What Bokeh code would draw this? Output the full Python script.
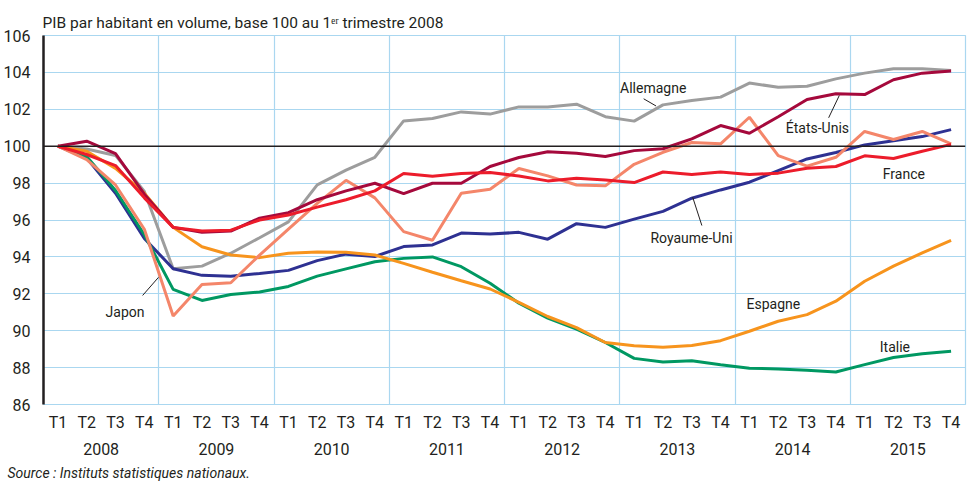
from bokeh.plotting import figure
from bokeh.models import FixedTicker, LinearAxis, Span, Label, Range1d, Title
from bokeh.embed import file_html
from bokeh.resources import INLINE

years = ["2008", "2009", "2010", "2011", "2012", "2013", "2014", "2015"]
quarter_labels = ["T1", "T2", "T3", "T4"]
y_ticks = [86, 88, 90, 92, 94, 96, 98, 100, 102, 104, 106]

allemagne = [100, 99.85, 99.5, 97.55, 93.36, 93.5, 94.2, 95.04, 95.9, 97.9, 98.7, 99.4,
             101.37, 101.5, 101.86, 101.74, 102.13, 102.13, 102.28, 101.6, 101.36, 102.24,
             102.48, 102.66, 103.42, 103.2, 103.25, 103.65, 103.96, 104.2, 104.2, 104.1]
etats_unis = [100, 100.27, 99.6, 97.4, 95.6, 95.33, 95.4, 96.1, 96.4, 97.1, 97.58, 97.99,
              97.43, 97.99, 97.99, 98.9, 99.39, 99.7, 99.62, 99.44, 99.76, 99.86,
              100.4, 101.12, 100.7, 101.6, 102.53, 102.84, 102.8, 103.6, 103.96, 104.07]
france = [100, 99.55, 98.95, 97.2, 95.6, 95.4, 95.45, 96.0, 96.27, 96.7, 97.1, 97.58,
          98.52, 98.37, 98.52, 98.57, 98.39, 98.12, 98.26, 98.17, 98.03, 98.6,
          98.46, 98.6, 98.46, 98.54, 98.8, 98.9, 99.48, 99.33, 99.73, 100.1]
japon = [100, 99.27, 97.9, 95.5, 90.8, 92.5, 92.6, 94.1, 95.5, 96.9, 98.15, 97.2,
         95.37, 94.9, 97.45, 97.67, 98.79, 98.39, 97.9, 97.85, 99.02, 99.67,
         100.2, 100.13, 101.57, 99.49, 98.92, 99.4, 100.8, 100.36, 100.8, 100.13]
royaume_uni = [100, 99.36, 97.45, 95.0, 93.36, 93.0, 92.95, 93.1, 93.27, 93.8, 94.15, 94.02,
               94.56, 94.65, 95.29, 95.24, 95.33, 94.96, 95.8, 95.6, 96.05, 96.47,
               97.18, 97.63, 98.05, 98.68, 99.31, 99.66, 100.07, 100.3, 100.52, 100.9]
espagne = [100, 99.73, 98.8, 97.45, 95.6, 94.55, 94.1, 93.96, 94.2, 94.27, 94.25, 94.1,
           93.65, 93.17, 92.71, 92.26, 91.54, 90.77, 90.17, 89.36, 89.18, 89.1,
           89.2, 89.46, 89.97, 90.51, 90.87, 91.6, 92.68, 93.5, 94.22, 94.9]
italie = [100, 99.45, 97.6, 95.2, 92.24, 91.64, 91.96, 92.1, 92.4, 92.96, 93.35, 93.74,
          93.92, 94.0, 93.47, 92.57, 91.49, 90.68, 90.08, 89.36, 88.5, 88.3,
          88.37, 88.16, 87.97, 87.92, 87.85, 87.76, 88.16, 88.55, 88.75, 88.88]

FONT = "Roboto"
TXT = "#231f20"
GRID = "#aad7f0"

n = len(allemagne)
xq = [i + 0.5 for i in range(n)]

p = figure(width=969, height=486, x_range=Range1d(0, n), y_range=Range1d(86, 106),
           output_backend="svg", toolbar_location=None,
           min_border_left=41, min_border_right=4, min_border_top=35, min_border_bottom=82)
p.title.text = "PIB par habitant en volume, base 100 au 1ᵉʳ trimestre 2008"
p.title.align = "left"
p.title.offset = -1
p.title.standoff = 7
p.title.text_font = FONT
p.title.text_font_size = "15.5px"
p.title.text_font_style = "normal"
p.title.text_color = TXT
p.background_fill_color = "white"
p.border_fill_color = "white"
p.outline_line_color = GRID
p.outline_line_width = 1.2

# grids
p.xgrid.ticker = FixedTicker(ticks=[4 * k for k in range(len(years) + 1)])
p.xgrid.grid_line_color = GRID
p.xgrid.grid_line_width = 1.2
p.ygrid.ticker = FixedTicker(ticks=y_ticks)
p.ygrid.grid_line_color = GRID
p.ygrid.grid_line_width = 1.2

# y axis
ya = p.yaxis[0]
ya.ticker = FixedTicker(ticks=y_ticks)
ya.axis_line_color = TXT
ya.axis_line_width = 2.5
ya.major_tick_line_color = None
ya.minor_tick_line_color = None
ya.major_label_standoff = 7
ya.major_label_text_font = FONT
ya.major_label_text_font_size = "16px"
ya.major_label_text_color = TXT

# quarter axis
xa = p.xaxis[0]
xa.ticker = FixedTicker(ticks=xq)
xa.major_label_overrides = {x: quarter_labels[i % 4] for i, x in enumerate(xq)}
xa.axis_line_color = None
xa.major_tick_line_color = None
xa.minor_tick_line_color = None
xa.major_label_standoff = 2
xa.major_label_text_font = FONT
xa.major_label_text_font_size = "16px"
xa.major_label_text_color = TXT

# year axis
year_ticks = [4 * k + 2 for k in range(len(years))]
xa2 = LinearAxis(ticker=FixedTicker(ticks=year_ticks),
                 major_label_overrides={t: yv for t, yv in zip(year_ticks, years)})
xa2.axis_line_color = None
xa2.major_tick_line_color = None
xa2.minor_tick_line_color = None
xa2.major_label_standoff = 2
xa2.major_label_text_font = FONT
xa2.major_label_text_font_size = "16px"
xa2.major_label_text_color = TXT
p.add_layout(xa2, "below")

# source note
src = Title(text="Source : Instituts statistiques nationaux.", align="left", offset=-36,
            standoff=11, text_font=FONT, text_font_size="14px", text_font_style="italic",
            text_color=TXT)
p.add_layout(src, "below")

series = [
    (allemagne, "#9d9d9d"),
    (royaume_uni, "#2e3192"),
    (italie, "#009862"),
    (espagne, "#f7941d"),
    (japon, "#f4866a"),
    (etats_unis, "#a5093c"),
    (france, "#ec1c2b"),
]
for vals, col in series:
    p.line(xq, vals, line_color=col, line_width=3)

p.add_layout(Span(location=100, dimension="width", line_color="#231f20", line_width=1.5))

# leader lines
p.segment(x0=[3.44, 20.83, 27.62, 22.53], y0=[91.91, 102.57, 102.75, 97.24],
          x1=[3.99, 21.26, 27.25, 22.85], y1=[92.89, 102.18, 101.54, 95.70],
          line_color="#231f20", line_width=1)

labels = [("Japon", 2.83, 91.04), ("Allemagne", 21.16, 103.15), ("États-Unis", 26.86, 101.01),
          ("France", 29.86, 98.52), ("Royaume-Uni", 22.49, 95.0), ("Espagne", 25.33, 91.47),
          ("Italie", 29.55, 89.14)]
for t, lx, ly in labels:
    p.add_layout(Label(x=lx, y=ly, text=t, text_align="center", text_baseline="middle",
                       text_font=FONT, text_font_size="14px", text_color=TXT))

open("out.html", "w").write(file_html(p, INLINE))
